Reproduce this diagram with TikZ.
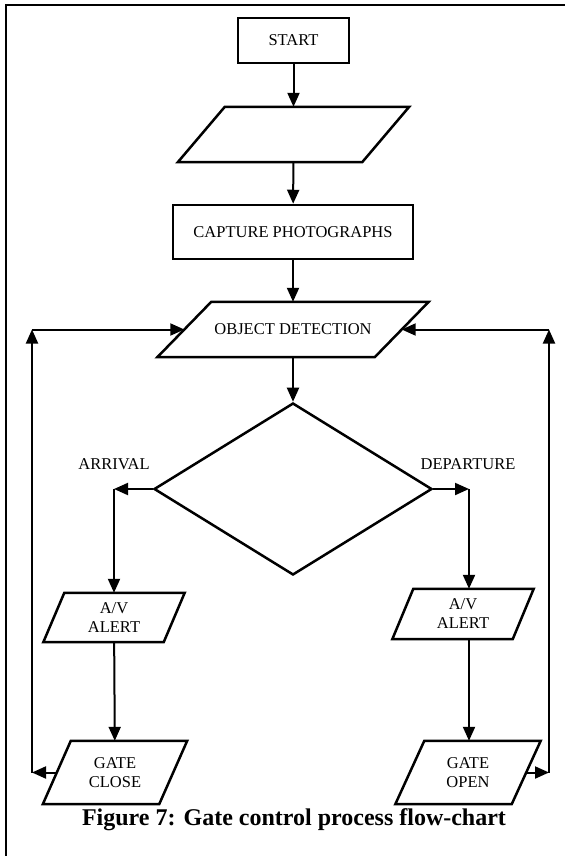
\documentclass[tikz,border=0pt]{standalone}
\usepackage{fontspec}
\setmainfont{Liberation Serif}
\usetikzlibrary{shapes.geometric,arrows.meta}

\tikzset{
  edge/.style={line width=2.5pt},
  flow/.style={font=\fontsize{16.5}{19}\selectfont, align=center, inner sep=2pt},
  box/.style={flow, edge, draw, rectangle},
  slant/.style={flow, inner sep=0pt},
  choice/.style={flow, edge, draw, diamond},
  arr/.style={line width=2pt, -{Triangle[length=14pt,width=12pt]}},
  lbl/.style={font=\fontsize{16.5}{19}\selectfont}
}
% parallelogram round a text node: name, skew
\newcommand\slantframe[2]{%
  \draw[edge] ([xshift=#2/2]#1.north west) -- ([xshift=#2/2]#1.north east)
    -- ([xshift=-#2/2]#1.south east) -- ([xshift=-#2/2]#1.south west) -- cycle;}

\begin{document}
\begin{tikzpicture}[x=1pt, y=-1pt, line join=miter]
  \useasboundingbox (0,0) rectangle (565,856); % same page as the scan

  % --- frame (left and top only) ---
  \draw[line width=1.8pt] (6,856) -- (6,5) -- (565,5);

  % --- main column ---
  \node[box, minimum width=111, minimum height=45] (start) at (293.5,40.5) {START};
  \node[slant, minimum width=184, minimum height=55] (input) at (293.5,134.5) {};
  \node[box, minimum width=240, minimum height=54] (capture) at (293,232) {CAPTURE PHOTOGRAPHS};
  \node[slant, minimum width=217, minimum height=55] (detect) at (293,329.5) {OBJECT DETECTION};
  \node[choice, minimum width=278, minimum height=172] (decide) at (293,489) {};
  \slantframe{input}{47}
  \slantframe{detect}{54}

  % --- branches ---
  \node[lbl] (arrival) at (114,464) {ARRIVAL};
  \node[lbl] (departure) at (468,464) {DEPARTURE};
  \node[slant, minimum width=120, minimum height=49] (alertL) at (114,617.5) {A/V\\ALERT};
  \node[slant, minimum width=120, minimum height=50] (alertR) at (463,614) {A/V\\ALERT};
  \node[slant, minimum width=116, minimum height=63] (close) at (115,772.5) {GATE\\CLOSE};
  \node[slant, minimum width=116, minimum height=63] (open) at (468,772.5) {GATE\\OPEN};
  \slantframe{alertL}{21}
  \slantframe{alertR}{21}
  \slantframe{close}{28}
  \slantframe{open}{29}

  \coordinate (turnL) at (114,489);
  \coordinate (turnR) at (469,489);
  \coordinate (loopLb) at (32,772.5);
  \coordinate (loopLt) at (32,329.5);
  \coordinate (loopRb) at (549,772.5);
  \coordinate (loopRt) at (549,329.5);

  % --- connectors ---
  \draw[arr] (start) -- (input);
  \draw[arr] (input) -- (capture);
  \draw[arr] (capture) -- (detect);
  \draw[arr] (detect) -- (decide);

  \draw[arr] (decide.west) -- (turnL);
  \draw[arr] (turnL) -- (alertL);
  \draw[arr] (alertL) -- (close);
  \draw[arr] (decide.east) -- (turnR);
  \draw[arr] (turnR) -- (turnR |- alertR.north);
  \draw[arr] (turnR |- alertR.south) -- (turnR |- open.north);

  % loops back to detection
  \draw[arr] (close.west) -- (loopLb);
  \draw[arr] (loopLb) -- (loopLt);
  \draw[arr] (loopLt) -- (detect.west);
  \draw[arr] (open.east) -- (loopRb);
  \draw[arr] (loopRb) -- (loopRt);
  \draw[arr] (loopRt) -- (detect.east);

  % --- caption ---
  \node[font=\fontsize{24}{28}\selectfont\bfseries] (caption) at (294,820) {Figure 7: Gate control process flow-chart};
\end{tikzpicture}
\end{document}
